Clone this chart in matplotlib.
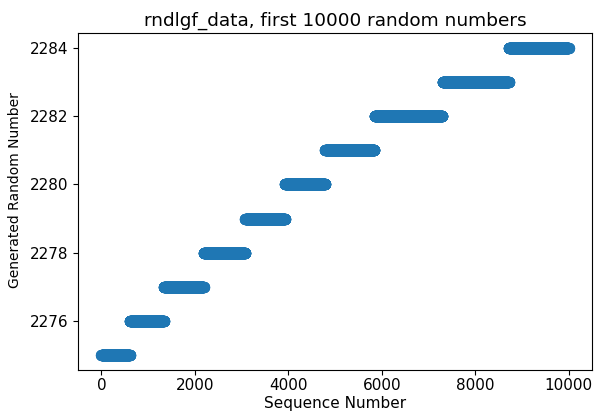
import numpy as np
import matplotlib
matplotlib.use("Agg")
import matplotlib.pyplot as plt

# Generated value levels and the sequence index where each level starts/ends
levels = [2275, 2276, 2277, 2278, 2279, 2280, 2281, 2282, 2283, 2284]
boundaries = [0, 610, 1340, 2190, 3080, 3930, 4790, 5845, 7300, 8720, 10000]

seq = np.arange(boundaries[0], boundaries[-1])
vals = np.empty(seq.shape, dtype=float)
for lv, a, b in zip(levels, boundaries[:-1], boundaries[1:]):
    vals[a:b] = lv

fig = plt.figure(figsize=(5.96, 4.16), dpi=100)
ax = fig.add_axes([78/596, 1 - 370/416, (592 - 78)/596, (370 - 33)/416])
ax.scatter(seq, vals, s=50, color="#1f77b4")
ax.set_xticks([0, 2000, 4000, 6000, 8000, 10000])
ax.set_yticks([2276, 2278, 2280, 2282, 2284])
ax.tick_params(labelsize=11)
ax.tick_params(axis="x", pad=2.5)
ax.set_title("rndlgf_data, first 10000 random numbers", fontsize=13.3, pad=5)
ax.set_xlabel("Sequence Number", fontsize=11, labelpad=2)
ax.set_ylabel("Generated Random Number", fontsize=10)
ax.yaxis.set_label_coords(-0.109, 0.535)
fig.savefig("out.png", dpi=100)
